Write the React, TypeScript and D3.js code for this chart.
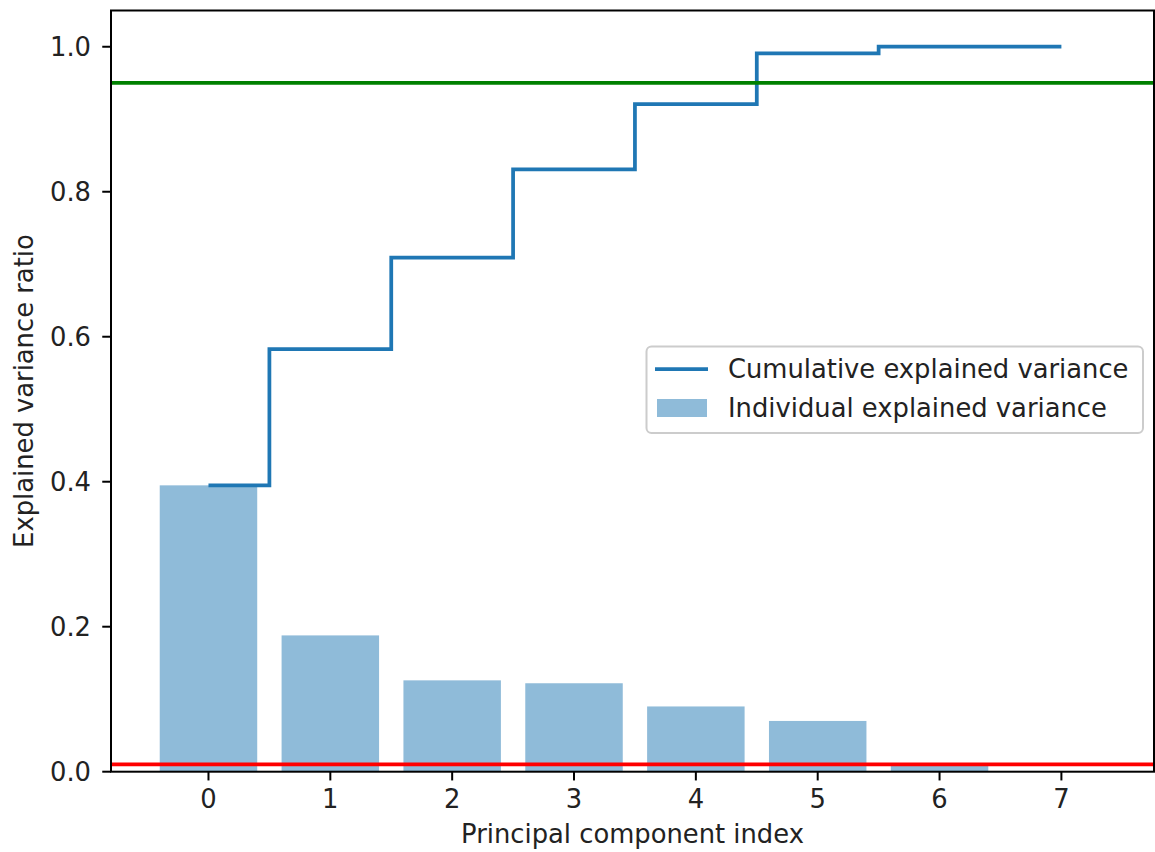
import React from "react";
import * as d3 from "d3";

const components = [0, 1, 2, 3, 4, 5, 6, 7];
const individual = [0.395, 0.188, 0.126, 0.122, 0.09, 0.07, 0.008, 0.001];
const cumulative = [0.395, 0.583, 0.709, 0.831, 0.921, 0.991, 1.0, 1.0];
const yTicks = [0.0, 0.2, 0.4, 0.6, 0.8, 1.0];
const xTicks = [0, 1, 2, 3, 4, 5, 6, 7];
const thresholdHigh = 0.95;
const thresholdLow = 0.01;

const W = 1155;
const H = 852;
const FONT = "DejaVu Sans, sans-serif";
const FS = 25.8;
const BLUE = "#1f77b4";

export default function App() {
  const x = d3.scaleLinear().domain([-0.8, 7.76]).range([111, 1154]);
  const y = d3.scaleLinear().domain([0, 1.05]).range([771.7, 10.5]);
  const barW = x(0.8) - x(0);
  const [x0, x1] = x.range();
  const [yb, yt] = y.range();

  const stepLine = d3
    .line<number>()
    .x((_, i) => x(components[i]))
    .y((d) => y(d))
    .curve(d3.curveStep);

  const tickLen = 8.75;
  const lw = 3.75;

  return (
    <svg
      width={W}
      height={H}
      style={{ position: "absolute", left: 0, top: 0, background: "#fff" }}
      fontFamily={FONT}
    >
      <rect x={0} y={0} width={W} height={H} fill="#fff" />
      {/* bars */}
      {individual.map((v, i) => (
        <rect
          key={i}
          x={x(components[i]) - barW / 2}
          y={y(v)}
          width={barW}
          height={y(0) - y(v)}
          fill={BLUE}
          fillOpacity={0.5}
        />
      ))}
      {/* cumulative step */}
      <path d={stepLine(cumulative) || ""} fill="none" stroke={BLUE} strokeWidth={lw} />
      {/* threshold lines */}
      <line x1={x0} x2={x1} y1={y(thresholdHigh)} y2={y(thresholdHigh)} stroke="green" strokeWidth={lw} />
      <line x1={x0} x2={x1} y1={y(thresholdLow)} y2={y(thresholdLow)} stroke="red" strokeWidth={lw} />
      {/* spines */}
      <rect x={x0} y={yt} width={x1 - x0} height={yb - yt} fill="none" stroke="#000" strokeWidth={2} />
      {/* y ticks */}
      {yTicks.map((t) => (
        <g key={t}>
          <line x1={x0 - tickLen} x2={x0} y1={y(t)} y2={y(t)} stroke="#000" strokeWidth={2} />
          <text x={91} y={y(t) + 9} textAnchor="end" fontSize={FS} fill="#222">
            {t.toFixed(1)}
          </text>
        </g>
      ))}
      {/* x ticks */}
      {xTicks.map((t) => (
        <g key={t}>
          <line x1={x(t)} x2={x(t)} y1={yb} y2={yb + tickLen} stroke="#000" strokeWidth={2} />
          <text x={x(t)} y={808} textAnchor="middle" fontSize={FS} fill="#222">
            {t}
          </text>
        </g>
      ))}
      {/* axis labels */}
      <text x={(x0 + x1) / 2} y={843} textAnchor="middle" fontSize={FS} fill="#222">
        Principal component index
      </text>
      <text
        transform={`translate(33, ${(yt + yb) / 2}) rotate(-90)`}
        textAnchor="middle"
        fontSize={FS}
        fill="#222"
      >
        Explained variance ratio
      </text>
      {/* legend */}
      <g>
        <rect
          x={646.5}
          y={346.5}
          width={496.5}
          height={86.5}
          rx={5}
          ry={5}
          fill="#fff"
          fillOpacity={0.8}
          stroke="#cccccc"
          strokeWidth={2}
        />
        <line x1={655} x2={708} y1={369} y2={369} stroke={BLUE} strokeWidth={lw} />
        <text x={728} y={378} fontSize={FS} fill="#222">
          Cumulative explained variance
        </text>
        <rect x={657} y={399} width={50} height={18} fill={BLUE} fillOpacity={0.5} />
        <text x={728} y={417} fontSize={FS} fill="#222">
          Individual explained variance
        </text>
      </g>
    </svg>
  );
}
